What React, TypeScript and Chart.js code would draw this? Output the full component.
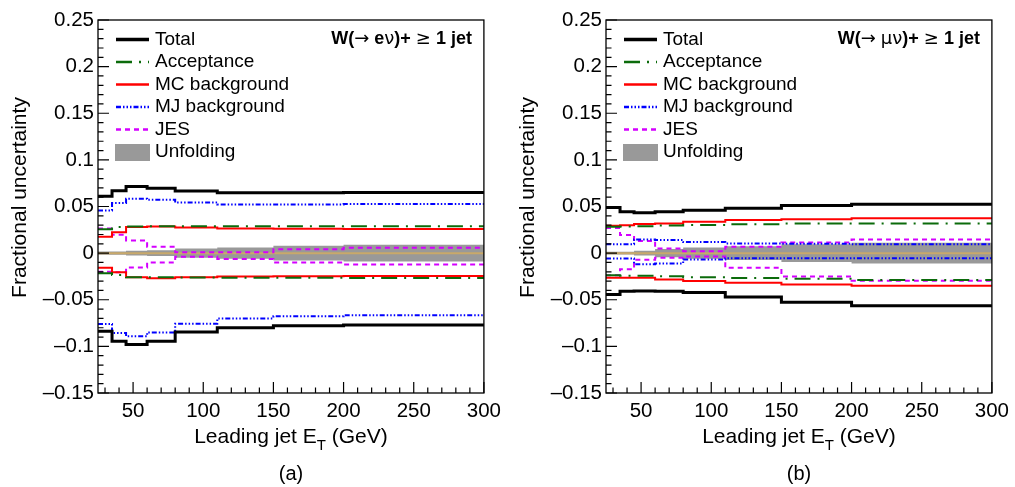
import { useEffect, useRef } from "react";
import { Chart, registerables } from "chart.js";

Chart.register(...registerables);

const FONT = "'Liberation Sans', Arial, Helvetica, sans-serif";
const SYMBOL_FONT = "'DejaVu Sans', sans-serif";
const H = 487;
const AREA_TOP = 20;
const AREA_BOTTOM = 393;

// bin edges of leading jet ET (GeV)
const binEdges = [25, 35, 45, 60, 80, 110, 150, 200, 300];
const xTickValues = [50, 100, 150, 200, 250, 300];
const yTickValues = [-0.15, -0.1, -0.05, 0, 0.05, 0.1, 0.15, 0.2, 0.25];

// (a) W -> e nu
const elTotalUp = [0.061, 0.067, 0.0715, 0.0697, 0.0665, 0.0647, 0.0647, 0.065];
const elTotalDn = [-0.0839, -0.0946, -0.098, -0.0946, -0.0846, -0.08, -0.0778, -0.0771];
const elAccUp = [0.0255, 0.028, 0.0285, 0.0288, 0.0288, 0.0288, 0.0288, 0.0288];
const elAccDn = [-0.0215, -0.0235, -0.0258, -0.026, -0.0262, -0.0263, -0.0265, -0.0267];
const elMcUp = [0.0176, 0.0225, 0.028, 0.0286, 0.0276, 0.0264, 0.0261, 0.026];
const elMcDn = [-0.0158, -0.0205, -0.0258, -0.027, -0.026, -0.0251, -0.0247, -0.0245];
const elMjUp = [0.0458, 0.0537, 0.0583, 0.0572, 0.0543, 0.0522, 0.0522, 0.0526];
const elMjDn = [-0.076, -0.0856, -0.0892, -0.085, -0.0757, -0.07, -0.0678, -0.0667];
const elJesUp = [0.0265, 0.0197, 0.0136, 0.0068, 0.001, 0.001, 0.0042, 0.0057];
const elJesDn = [-0.02, -0.0205, -0.0155, -0.01, -0.0038, -0.0062, -0.01, -0.0122];
const elUnfUp = [0.0018, 0.0018, 0.0025, 0.003, 0.005, 0.006, 0.008, 0.009];
const elUnfDn = [-0.0018, -0.0018, -0.0025, -0.003, -0.005, -0.006, -0.008, -0.009];

// (b) W -> mu nu
const muTotalUp = [0.049, 0.0443, 0.0434, 0.0445, 0.046, 0.0482, 0.0512, 0.0525];
const muTotalDn = [-0.0443, -0.0408, -0.0405, -0.041, -0.0423, -0.0471, -0.0526, -0.0565];
const muAccUp = [0.0282, 0.0285, 0.0288, 0.0295, 0.0302, 0.031, 0.0318, 0.0318];
const muAccDn = [-0.0238, -0.0243, -0.0243, -0.0248, -0.026, -0.0268, -0.0275, -0.0289];
const muMcUp = [0.0293, 0.03, 0.0311, 0.0318, 0.0336, 0.0354, 0.0362, 0.0375];
const muMcDn = [-0.0264, -0.0264, -0.0264, -0.0282, -0.03, -0.0318, -0.0336, -0.035];
const muMjUp = [0.0095, 0.0095, 0.0147, 0.014, 0.0118, 0.0104, 0.01, 0.0095];
const muMjDn = [-0.0057, -0.0057, -0.0118, -0.011, -0.0068, -0.0055, -0.0055, -0.0055];
const muJesUp = [0.027, 0.0195, 0.013, 0.005, 0.0021, 0.0068, 0.0113, 0.0147];
const muJesDn = [-0.0238, -0.0172, -0.007, -0.005, -0.0035, -0.0157, -0.025, -0.0295];
const muUnfUp = [0.0015, 0.0015, 0.0025, 0.0045, 0.006, 0.0075, 0.0095, 0.011];
const muUnfDn = [-0.0015, -0.0015, -0.0025, -0.0045, -0.006, -0.0075, -0.0095, -0.011];

const legendLabels = ["Total", "Acceptance", "MC background", "MJ background", "JES", "Unfolding"];

const lineStyles = [
  { color: "#000000", width: 3, dash: [] as number[] },
  { color: "#0b6b0b", width: 2, dash: [16, 7, 2, 7] },
  { color: "#ff0000", width: 2, dash: [] as number[] },
  { color: "#0000ff", width: 2, dash: [5, 2, 1.5, 2, 1.5, 2, 1.5, 2] },
  { color: "#d400ff", width: 2, dash: [5, 4] },
];
const BAND_COLOR = "#999999";
const ZERO_COLOR = "#c9a96a";

function stepPoints(vals: number[]) {
  return binEdges.map((e, i) => ({ x: e, y: vals[Math.min(i, vals.length - 1)] }));
}

function buildDatasets(series: number[][][], unfUp: number[], unfDn: number[]) {
  const sets: any[] = [];
  series.forEach(([up, dn], i) => {
    const s = lineStyles[i];
    [up, dn].forEach((vals) =>
      sets.push({
        data: stepPoints(vals),
        borderColor: s.color,
        borderWidth: s.width,
        borderDash: s.dash,
        stepped: "before",
        pointRadius: 0,
        fill: false,
      })
    );
  });
  sets.push({
    data: [
      { x: binEdges[0], y: 0 },
      { x: binEdges[binEdges.length - 1], y: 0 },
    ],
    borderColor: ZERO_COLOR,
    borderWidth: 2,
    pointRadius: 0,
    fill: false,
  });
  sets.push({
    data: stepPoints(unfUp),
    borderColor: "rgba(0,0,0,0)",
    borderWidth: 1,
    backgroundColor: BAND_COLOR,
    stepped: "before",
    pointRadius: 0,
    fill: "+1",
  });
  sets.push({
    data: stepPoints(unfDn),
    borderColor: "rgba(0,0,0,0)",
    borderWidth: 1,
    stepped: "before",
    pointRadius: 0,
    fill: false,
  });
  return sets;
}

type PanelCfg = {
  left: number;
  width: number;
  areaLeft: number;
  areaRight: number;
  caption: string;
  process: [string, string][];
  datasets: any[];
};

// process label pieces: text and font kind (b = bold, s = symbol)
const panels: PanelCfg[] = [
  {
    left: 0,
    width: 507,
    areaLeft: 98,
    areaRight: 488,
    caption: "(a)",
    process: [["W(", "b"], ["\u2192", "s"], [" e", "b"], ["\u03bd", "s"], [")+ ", "b"], ["\u2265", "s"], [" 1 jet", "b"]],
    datasets: buildDatasets(
      [
        [elTotalUp, elTotalDn],
        [elAccUp, elAccDn],
        [elMcUp, elMcDn],
        [elMjUp, elMjDn],
        [elJesUp, elJesDn],
      ],
      elUnfUp,
      elUnfDn
    ),
  },
  {
    left: 507,
    width: 508,
    areaLeft: 606,
    areaRight: 994,
    caption: "(b)",
    process: [["W(", "b"], ["\u2192", "s"], [" ", "b"], ["\u03bc\u03bd", "s"], [")+ ", "b"], ["\u2265", "s"], [" 1 jet", "b"]],
    datasets: buildDatasets(
      [
        [muTotalUp, muTotalDn],
        [muAccUp, muAccDn],
        [muMcUp, muMcDn],
        [muMjUp, muMjDn],
        [muJesUp, muJesDn],
      ],
      muUnfUp,
      muUnfDn
    ),
  },
];

function fmtY(v: number) {
  const r = Math.round(v * 100) / 100;
  if (r === 0) return "0";
  return (r < 0 ? "\u2013" : "") + String(Math.abs(r));
}

function makeDecor(cfg: PanelCfg) {
  return {
    id: "decor",
    afterDraw(chart: any) {
      const { ctx, chartArea: a, scales } = chart;
      const xs = scales.x;
      const ys = scales.y;
      ctx.save();
      ctx.setLineDash([]);
      ctx.strokeStyle = "#000";
      ctx.lineWidth = 1.3;
      ctx.strokeRect(a.left, a.top, a.right - a.left, a.bottom - a.top);

      // inner ticks
      ctx.lineWidth = 1.2;
      ctx.beginPath();
      for (let v = 30; v <= 300; v += 10) {
        const px = xs.getPixelForValue(v);
        const len = v % 50 === 0 ? 11 : 5.5;
        ctx.moveTo(px, a.bottom);
        ctx.lineTo(px, a.bottom - len);
      }
      for (let k = -15; k <= 25; k++) {
        const py = ys.getPixelForValue(k / 100);
        const len = k % 5 === 0 ? 11 : 5.5;
        ctx.moveTo(a.left, py);
        ctx.lineTo(a.left + len, py);
      }
      ctx.stroke();

      // legend
      const lx0 = a.left + 18;
      const lx1 = a.left + 51;
      const tx = a.left + 57;
      ctx.font = `19px ${FONT}`;
      ctx.textBaseline = "middle";
      ctx.textAlign = "left";
      ctx.fillStyle = "#000";
      legendLabels.forEach((label, i) => {
        const cy = 39.5 + i * 22.5;
        if (i < lineStyles.length) {
          const s = lineStyles[i];
          ctx.strokeStyle = s.color;
          ctx.lineWidth = i === 0 ? 3.5 : s.width + 0.5;
          ctx.setLineDash(s.dash);
          ctx.beginPath();
          ctx.moveTo(lx0, cy);
          ctx.lineTo(lx1, cy);
          ctx.stroke();
          ctx.setLineDash([]);
        } else {
          ctx.fillStyle = BAND_COLOR;
          ctx.fillRect(lx0 - 1, cy - 8, lx1 - lx0 + 2, 17);
        }
        ctx.fillStyle = "#000";
        ctx.fillText(label, tx, cy);
      });

      // process label, right aligned
      const fontFor = (kind: string) =>
        kind === "b" ? `bold 18px ${FONT}` : `18px ${SYMBOL_FONT}`;
      let total = 0;
      cfg.process.forEach(([t, k]) => {
        ctx.font = fontFor(k);
        total += ctx.measureText(t).width;
      });
      let px = a.right - 12 - total;
      cfg.process.forEach(([t, k]) => {
        ctx.font = fontFor(k);
        ctx.fillText(t, px, 39.5);
        px += ctx.measureText(t).width;
      });

      // y title
      ctx.save();
      ctx.translate(a.left - 78, 197.5);
      ctx.rotate(-Math.PI / 2);
      ctx.font = `21px ${FONT}`;
      ctx.textAlign = "center";
      ctx.fillText("Fractional uncertainty", 0, 0);
      ctx.restore();

      // x title with subscript
      const main = `21px ${FONT}`;
      const sub = `15px ${FONT}`;
      const parts: [string, string, number][] = [
        ["Leading jet E", main, 0],
        ["T", sub, 7],
        [" (GeV)", main, 0],
      ];
      let w = 0;
      parts.forEach(([t, f]) => {
        ctx.font = f;
        w += ctx.measureText(t).width;
      });
      let x = (a.left + a.right) / 2 - w / 2;
      ctx.textBaseline = "alphabetic";
      parts.forEach(([t, f, dy]) => {
        ctx.font = f;
        ctx.fillText(t, x, 443 + dy);
        x += ctx.measureText(t).width;
      });

      // caption
      ctx.font = `20px ${FONT}`;
      ctx.textAlign = "center";
      ctx.fillText(cfg.caption, (a.left + a.right) / 2, 480);
      ctx.restore();
    },
  };
}

function Panel({ cfg }: { cfg: PanelCfg }) {
  const canvasRef = useRef<HTMLCanvasElement>(null);

  useEffect(() => {
    if (!canvasRef.current) return;
    const yWidth = cfg.areaLeft - cfg.left;
    const chart = new Chart(canvasRef.current, {
      type: "line",
      data: { datasets: cfg.datasets },
      options: {
        responsive: false,
        animation: false,
        layout: {
          padding: { left: 0, top: AREA_TOP, right: cfg.width - (cfg.areaRight - cfg.left), bottom: 0 },
        },
        plugins: { legend: { display: false }, tooltip: { enabled: false } },
        scales: {
          x: {
            type: "linear",
            min: 25,
            max: 300,
            grid: { display: false, drawTicks: false },
            border: { display: false },
            afterBuildTicks: (scale: any) => {
              scale.ticks = xTickValues.map((v) => ({ value: v }));
            },
            afterFit: (scale: any) => {
              scale.height = H - AREA_BOTTOM;
            },
            ticks: {
              padding: 6,
              maxRotation: 0,
              autoSkip: false,
              color: "#000",
              font: { family: FONT, size: 20.5 },
            },
          },
          y: {
            type: "linear",
            min: -0.15,
            max: 0.25,
            grid: { display: false, drawTicks: false },
            border: { display: false },
            afterBuildTicks: (scale: any) => {
              scale.ticks = yTickValues.map((v) => ({ value: v }));
            },
            afterFit: (scale: any) => {
              scale.width = yWidth;
            },
            ticks: {
              padding: 4,
              autoSkip: false,
              color: "#000",
              font: { family: FONT, size: 20.5 },
              callback: (v: any) => fmtY(Number(v)),
            },
          },
        },
      },
      plugins: [makeDecor(cfg)],
    });
    return () => chart.destroy();
  }, [cfg]);

  return (
    <canvas
      ref={canvasRef}
      width={cfg.width}
      height={H}
      style={{ position: "absolute", left: cfg.left, top: 0, width: cfg.width, height: H }}
    />
  );
}

export default function App() {
  return (
    <div style={{ position: "absolute", left: 0, top: 0, width: 1015, height: H, background: "#fff" }}>
      {panels.map((p) => (
        <Panel key={p.caption} cfg={p} />
      ))}
    </div>
  );
}
